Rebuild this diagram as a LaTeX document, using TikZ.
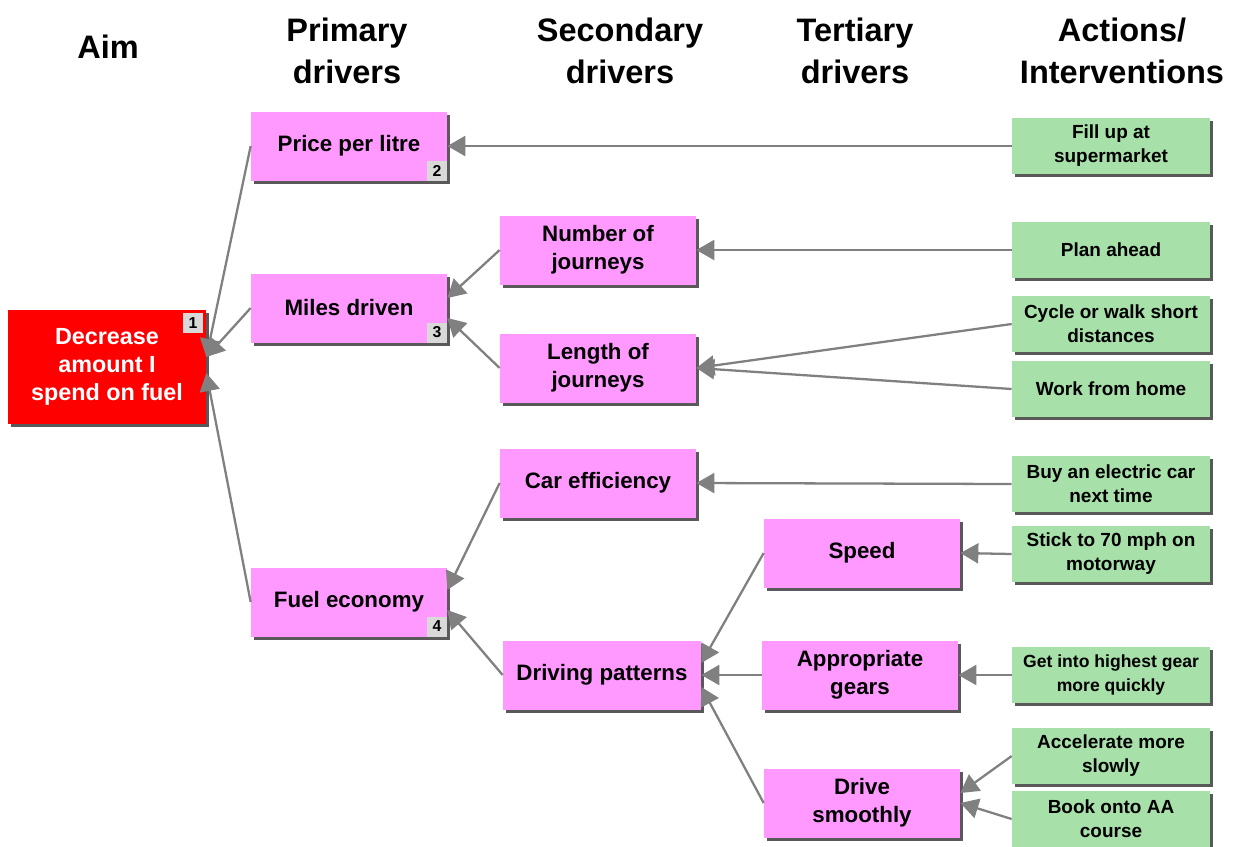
\documentclass[tikz,border=0pt]{standalone}
\usepackage{fontspec}
\setmainfont{Liberation Sans}
\usetikzlibrary{arrows.meta,shadows}

\definecolor{aimred}{RGB}{255,0,0}
\definecolor{drvpink}{RGB}{255,153,255}
\definecolor{actgreen}{RGB}{168,224,170}
\definecolor{linkgray}{RGB}{128,128,128}
\definecolor{taggray}{RGB}{217,217,217}

\tikzset{
  box/.style={align=center, inner sep=2pt,
    drop shadow={shadow xshift=0.06cm, shadow yshift=-0.06cm, fill=black!65, opacity=1}},
  aimbox/.style={box, fill=aimred, text=white, minimum width=3.96cm, minimum height=2.28cm,
    font=\bfseries\fontsize{13.3}{15.9}\selectfont},
  drvbox/.style={box, fill=drvpink, minimum width=3.92cm, minimum height=1.38cm,
    font=\bfseries\fontsize{12.7}{15.9}\selectfont},
  actbox/.style={box, fill=actgreen, minimum width=3.96cm, minimum height=1.12cm,
    font=\bfseries\fontsize{10.8}{13.6}\selectfont},
  tag/.style={fill=taggray, minimum size=0.4cm, inner sep=0pt,
    font=\bfseries\fontsize{9}{10}\selectfont},
  head/.style={align=center, font=\bfseries\fontsize{18.5}{23.8}\selectfont},
  link/.style={draw=linkgray, line width=1.3pt, -{Triangle[length=0.36cm, width=0.4cm]}},
}

\begin{document}
\begin{tikzpicture}[x=0.02cm, y=-0.02cm]
  \useasboundingbox (0,0) rectangle (1239,846);

  % column heads
  \node[head] (hAim) at (108,47) {Aim};
  \node[head] (hPrim) at (347,51) {Primary\\drivers};
  \node[head] (hSec) at (620,51) {Secondary\\drivers};
  \node[head] (hTer) at (855,51) {Tertiary\\drivers};
  \node[head] (hAct) at (1122,51) {Actions/\\Interventions};

  % aim
  \node[aimbox] (aim) at (107,367) {Decrease\\amount I\\spend on fuel};
  \node[tag, anchor=north east] (tag1) at ([xshift=-0.06cm, yshift=-0.06cm]aim.north east) {1};

  % primary drivers
  \node[drvbox] (price) at (349,146) {Price per litre};
  \node[drvbox] (miles) at (349,308) {Miles driven};
  \node[drvbox] (fuel) at (349,602) {Fuel economy};
  \node[tag, anchor=south east] (tag2) at (price.south east) {2};
  \node[tag, anchor=south east] (tag3) at (miles.south east) {3};
  \node[tag, anchor=south east] (tag4) at (fuel.south east) {4};

  % secondary drivers
  \node[drvbox] (number) at (598,250) {Number of\\journeys};
  \node[drvbox] (length) at (598,368) {Length of\\journeys};
  \node[drvbox] (careff) at (598,483) {Car efficiency};
  \node[drvbox, minimum width=3.96cm] (driving) at (602,675) {Driving patterns};

  % tertiary drivers
  \node[drvbox] (speed) at (862,553) {Speed};
  \node[drvbox] (gears) at (860,675) {Appropriate\\gears};
  \node[drvbox] (smooth) at (862,803) {Drive\\smoothly};

  % actions
  \node[actbox] (fill) at (1111,146) {Fill up at\\supermarket};
  \node[actbox] (plan) at (1111,250) {Plan ahead};
  \node[actbox] (cycle) at (1111,324) {Cycle or walk short\\distances};
  \node[actbox] (home) at (1111,389) {Work from home};
  \node[actbox] (buy) at (1111,484) {Buy an electric car\\next time};
  \node[actbox] (stick) at (1111,554) {Stick to 70 mph on\\motorway};
  \node[actbox, font=\bfseries\fontsize{10}{13.6}\selectfont] (gear) at (1111,675) {Get into highest gear\\more quickly};
  \node[actbox] (accel) at (1111,756) {Accelerate more\\slowly};
  \node[actbox] (book) at (1111,819) {Book onto AA\\course};

  % links, child to parent (last value: tip raised by so many px)
  \foreach \a/\b/\s in {price/aim/10, miles/aim/10, fuel/aim/-6,
      number/miles/10, length/miles/-10, careff/fuel/12, driving/fuel/-8,
      speed/driving/12, gears/driving/0, smooth/driving/-12,
      fill/price/0, plan/number/0, cycle/length/0, home/length/0, buy/careff/0,
      stick/speed/0, gear/gears/0, accel/smooth/10, book/smooth/0}
    \draw[link] (\a.west) -- ([yshift=\s*0.02cm]\b.east);
\end{tikzpicture}
\end{document}
